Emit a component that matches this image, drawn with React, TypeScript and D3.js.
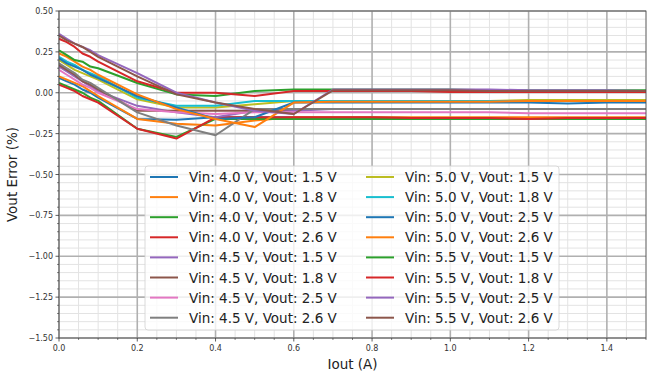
import React from 'react';
import * as d3 from 'd3';

// load current sample points (A)
const iout = [0, 0.02, 0.04, 0.06, 0.08, 0.1, 0.2, 0.3, 0.4, 0.5, 0.6, 0.7, 0.8, 0.9, 1.0, 1.1, 1.2, 1.3, 1.4, 1.5];

const seriesNames = [
  'Vin: 4.0 V, Vout: 1.5 V', 'Vin: 4.0 V, Vout: 1.8 V', 'Vin: 4.0 V, Vout: 2.5 V', 'Vin: 4.0 V, Vout: 2.6 V',
  'Vin: 4.5 V, Vout: 1.5 V', 'Vin: 4.5 V, Vout: 1.8 V', 'Vin: 4.5 V, Vout: 2.5 V', 'Vin: 4.5 V, Vout: 2.6 V',
  'Vin: 5.0 V, Vout: 1.5 V', 'Vin: 5.0 V, Vout: 1.8 V', 'Vin: 5.0 V, Vout: 2.5 V', 'Vin: 5.0 V, Vout: 2.6 V',
  'Vin: 5.5 V, Vout: 1.5 V', 'Vin: 5.5 V, Vout: 1.8 V', 'Vin: 5.5 V, Vout: 2.5 V', 'Vin: 5.5 V, Vout: 2.6 V',
];

// error (%) per series
const v40_15 = [0.09, 0.07, 0.05, 0.02, 0.0, -0.03, -0.16, -0.165, -0.15, -0.15, -0.15, -0.15, -0.15, -0.155, -0.155, -0.155, -0.155, -0.155, -0.155, -0.155];
const v40_18 = [0.1, 0.08, 0.06, 0.04, 0.01, -0.02, -0.16, -0.19, -0.2, -0.17, -0.15, -0.15, -0.15, -0.15, -0.15, -0.15, -0.15, -0.15, -0.15, -0.15];
const v40_25 = [0.06, 0.04, 0.02, 0.0, -0.03, -0.05, -0.22, -0.27, -0.16, -0.16, -0.16, -0.16, -0.16, -0.16, -0.16, -0.16, -0.16, -0.16, -0.16, -0.16];
const v40_26 = [0.05, 0.03, 0.01, -0.02, -0.04, -0.06, -0.22, -0.28, -0.15, -0.15, -0.15, -0.15, -0.15, -0.155, -0.155, -0.155, -0.16, -0.155, -0.155, -0.155];
const v45_15 = [0.16, 0.13, 0.1, 0.07, 0.04, 0.01, -0.08, -0.12, -0.15, -0.11, -0.11, -0.1, -0.1, -0.1, -0.1, -0.1, -0.1, -0.1, -0.1, -0.1];
const v45_18 = [0.17, 0.14, 0.11, 0.07, 0.05, 0.02, -0.11, -0.11, -0.11, -0.11, -0.1, -0.1, -0.1, -0.1, -0.1, -0.1, -0.1, -0.1, -0.1, -0.1];
const v45_25 = [0.14, 0.11, 0.08, 0.05, 0.03, 0.0, -0.1, -0.12, -0.13, -0.12, -0.12, -0.12, -0.12, -0.12, -0.12, -0.12, -0.125, -0.125, -0.125, -0.125];
const v45_26 = [0.18, 0.15, 0.12, 0.08, 0.06, 0.03, -0.12, -0.2, -0.26, -0.1, -0.1, -0.1, -0.1, -0.1, -0.1, -0.1, -0.1, -0.1, -0.1, -0.1];
const v50_15 = [0.2, 0.17, 0.14, 0.12, 0.1, 0.08, -0.04, -0.09, -0.09, -0.07, -0.05, -0.05, -0.05, -0.05, -0.05, -0.05, -0.045, -0.045, -0.045, -0.045];
const v50_18 = [0.22, 0.19, 0.17, 0.14, 0.12, 0.1, -0.03, -0.08, -0.08, -0.05, -0.05, -0.05, -0.05, -0.05, -0.05, -0.05, -0.05, -0.05, -0.05, -0.05];
const v50_25 = [0.21, 0.18, 0.16, 0.14, 0.11, 0.09, -0.02, -0.09, -0.16, -0.15, -0.06, -0.06, -0.06, -0.06, -0.06, -0.06, -0.06, -0.065, -0.06, -0.06];
const v50_26 = [0.24, 0.22, 0.19, 0.16, 0.14, 0.11, -0.01, -0.1, -0.16, -0.21, -0.06, -0.055, -0.055, -0.055, -0.055, -0.055, -0.05, -0.05, -0.05, -0.05];
const v55_15 = [0.26, 0.23, 0.2, 0.19, 0.16, 0.15, 0.06, -0.01, -0.02, 0.01, 0.02, 0.02, 0.02, 0.02, 0.02, 0.015, 0.015, 0.015, 0.015, 0.015];
const v55_18 = [0.33, 0.31, 0.28, 0.24, 0.22, 0.19, 0.07, 0.0, 0.0, -0.02, 0.01, 0.01, 0.01, 0.01, 0.005, 0.005, 0.005, 0.005, 0.005, 0.005];
const v55_25 = [0.36, 0.33, 0.3, 0.28, 0.26, 0.23, 0.12, 0.0, -0.06, -0.11, -0.13, 0.02, 0.02, 0.02, 0.02, 0.02, 0.015, 0.015, 0.015, 0.01];
const v55_26 = [0.35, 0.32, 0.3, 0.28, 0.25, 0.22, 0.1, -0.01, -0.06, -0.1, -0.13, 0.015, 0.015, 0.015, 0.015, 0.01, 0.01, 0.01, 0.01, 0.01];

const seriesValues = [
  v40_15, v40_18, v40_25, v40_26, v45_15, v45_18, v45_25, v45_26,
  v50_15, v50_18, v50_25, v50_26, v55_15, v55_18, v55_25, v55_26,
];

const xTicks = [0, 0.2, 0.4, 0.6, 0.8, 1.0, 1.2, 1.4];
const yTicks = [0.5, 0.25, 0, -0.25, -0.5, -0.75, -1.0, -1.25, -1.5];

const tab10 = d3.schemeCategory10;

const W = 647;
const H = 374;
const margin = { left: 59, right: 1, top: 11, bottom: 36 };
const FONT = 'DejaVu Sans, sans-serif';

const fmt = (v: number) => (v < 0 ? '\u2212' : '') + Math.abs(v).toFixed(v === 0 || Math.abs(v) >= 0.1 && xTicks.includes(v) ? 1 : 2);

export default function App() {
  const x = d3.scaleLinear().domain([0, 1.5]).range([margin.left, W - margin.right]);
  const y = d3.scaleLinear().domain([-1.5, 0.5]).range([H - margin.bottom, margin.top]);

  const minorX = d3.range(0, 1.5001, 0.05).filter(v => Math.abs(v / 0.2 - Math.round(v / 0.2)) > 1e-6);
  const minorY = d3.range(-1.5, 0.5001, 0.05).filter(v => Math.abs(v / 0.25 - Math.round(v / 0.25)) > 1e-6);

  const line = d3.line<number>()
    .x((_, i) => x(iout[i]))
    .y(d => y(d));

  const [x0, x1] = x.range();
  const [y0, y1] = y.range();

  // legend layout
  const legX = 145, legY = 166, legW = 414, legH = 164;
  const rowH = 20.1;

  return (
    <svg width={W} height={H} style={{ position: 'absolute', left: 0, top: 0, background: '#fff' }} fontFamily={FONT}>
      <defs>
        <clipPath id="plot">
          <rect x={x0} y={y1} width={x1 - x0} height={y0 - y1} />
        </clipPath>
      </defs>
      {/* minor grid */}
      {minorX.map(v => (
        <line key={'mx' + v} x1={x(v)} x2={x(v)} y1={y1} y2={y0} stroke="#e3e3e3" strokeWidth={1} />
      ))}
      {minorY.map(v => (
        <line key={'my' + v} x1={x0} x2={x1} y1={y(v)} y2={y(v)} stroke="#e3e3e3" strokeWidth={1} />
      ))}
      {/* major grid */}
      {xTicks.map(v => (
        <line key={'gx' + v} x1={x(v)} x2={x(v)} y1={y1} y2={y0} stroke="#b0b0b0" strokeWidth={1.6} />
      ))}
      {yTicks.map(v => (
        <line key={'gy' + v} x1={x0} x2={x1} y1={y(v)} y2={y(v)} stroke="#b0b0b0" strokeWidth={1.6} />
      ))}

      {/* series */}
      <g clipPath="url(#plot)">
        {seriesValues.map((vals, i) => (
          <path key={i} d={line(vals) || ''} fill="none" stroke={tab10[i % 10]} strokeWidth={2} strokeLinejoin="round" />
        ))}
      </g>

      {/* frame */}
      <rect x={x0} y={y1} width={x1 - x0} height={y0 - y1} fill="none" stroke="#444" strokeWidth={0.8} />

      {/* ticks */}
      {minorX.map(v => (
        <line key={'tmx' + v} x1={x(v)} x2={x(v)} y1={y0} y2={y0 + 2} stroke="#333" strokeWidth={0.6} />
      ))}
      {minorY.map(v => (
        <line key={'tmy' + v} x1={x0 - 2} x2={x0} y1={y(v)} y2={y(v)} stroke="#333" strokeWidth={0.6} />
      ))}
      {xTicks.map(v => (
        <g key={'tx' + v}>
          <line x1={x(v)} x2={x(v)} y1={y0} y2={y0 + 3.5} stroke="#333" strokeWidth={0.8} />
          <text x={x(v)} y={y0 + 13} fontSize={8} textAnchor="middle" fill="#333">{v.toFixed(1)}</text>
        </g>
      ))}
      {yTicks.map(v => (
        <g key={'ty' + v}>
          <line x1={x0 - 3.5} x2={x0} y1={y(v)} y2={y(v)} stroke="#333" strokeWidth={0.8} />
          <text x={x0 - 6} y={y(v) + 3} fontSize={8} textAnchor="end" fill="#333">
            {(v < 0 ? '\u2212' : '') + Math.abs(v).toFixed(2)}
          </text>
        </g>
      ))}

      {/* axis labels */}
      <text x={(x0 + x1) / 2} y={H - 5} fontSize={13.5} textAnchor="middle" fill="#222">Iout (A)</text>
      <text transform={`translate(17,${(y0 + y1) / 2}) rotate(-90)`} fontSize={13.5} textAnchor="middle" fill="#222">Vout Error (%)</text>

      {/* legend */}
      <rect x={legX} y={legY} width={legW} height={legH} rx={3} fill="#fff" fillOpacity={0.8} stroke="#d0d0d0" strokeWidth={0.8} />
      {seriesNames.map((name, i) => {
        const col = Math.floor(i / 8);
        const row = i % 8;
        const lx = legX + 5 + col * 216;
        const ly = legY + 11 + row * rowH;
        return (
          <g key={name + i}>
            <line x1={lx} x2={lx + 28} y1={ly} y2={ly} stroke={tab10[i % 10]} strokeWidth={2} />
            <text x={lx + 39} y={ly + 5} fontSize={13.5} fill="#222">{name}</text>
          </g>
        );
      })}
    </svg>
  );
}
